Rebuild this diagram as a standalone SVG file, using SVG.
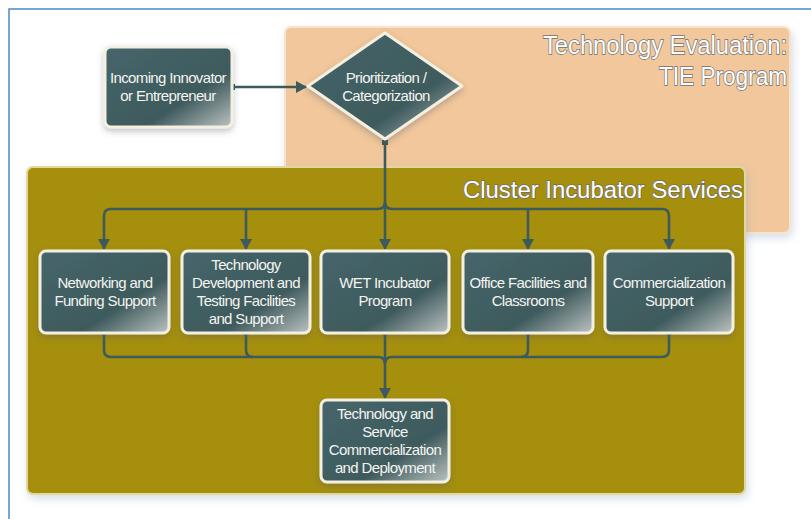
<svg xmlns="http://www.w3.org/2000/svg" width="811" height="519" viewBox="0 0 811 519">
<style>
.node{stroke:#F3F0E2;stroke-width:3}
.nt{font-family:"Liberation Sans","Arial",sans-serif;font-size:15px;fill:#F4F4F0;text-anchor:middle;letter-spacing:-0.65px}
.title{font-family:"Liberation Sans","Arial",sans-serif;fill:#FFFFFF;stroke:#6E6E6E;stroke-width:1.4;paint-order:stroke;text-anchor:end}
.conn{fill:none;stroke:#3D5A5C;stroke-width:2.6;stroke-linejoin:round}
</style>
<defs>
<linearGradient id="ng" x1="0" y1="0" x2="1" y2="1">
<stop offset="0" stop-color="#46666A"/>
<stop offset="0.65" stop-color="#3E5A5D"/>
<stop offset="1" stop-color="#BCC3C1"/>
</linearGradient>
<filter id="sh" x="-20%" y="-20%" width="140%" height="150%">
<feDropShadow dx="0" dy="3" stdDeviation="3" flood-color="#556" flood-opacity="0.35"/>
</filter>
<filter id="bsh" x="-5%" y="-5%" width="110%" height="115%">
<feDropShadow dx="2" dy="4" stdDeviation="4" flood-color="#8FA4C0" flood-opacity="0.35"/>
</filter>
<marker id="ah" markerUnits="userSpaceOnUse" markerWidth="14" markerHeight="14" refX="10" refY="6" orient="auto">
<path d="M0,0 L11,6 L0,12 Z" fill="#3D5A5C"/>
</marker>
</defs>
<rect width="811" height="519" fill="#FFFFFF"/>
<rect x="9" y="9" width="820" height="530" fill="none" stroke="#4F86C9" stroke-width="1.5"/>

<g id="tie-program">
<rect x="285" y="27" width="505" height="206" rx="6" fill="#F1C79B" stroke="#F7E3CC" stroke-width="2" filter="url(#bsh)"/>
<text class="title" x="787" y="54" font-size="25" textLength="244" lengthAdjust="spacingAndGlyphs">Technology Evaluation:</text>
<text class="title" x="787" y="85" font-size="25" textLength="128" lengthAdjust="spacingAndGlyphs">TIE Program</text>
</g>

<g id="cluster-incubator">
<rect x="27" y="167" width="718" height="327" rx="6" fill="#A58F08" stroke="#E3D7A0" stroke-width="2" filter="url(#bsh)"/>
<text class="title" x="743" y="198" font-size="24" textLength="280" lengthAdjust="spacingAndGlyphs" stroke-width="1">Cluster Incubator Services</text>
</g>

<g id="connectors">
<path class="conn" d="M232,87 H306" marker-end="url(#ah)"/>
<rect x="229" y="84" width="6" height="6" fill="#3D5A5C"/>
<path class="conn" d="M385,140 V249" marker-end="url(#ah)"/>
<rect x="382" y="140" width="6" height="5" fill="#3D5A5C"/>
<path class="conn" d="M385,202 Q385,209 378,209 H111 Q104,209 104,216 V249" marker-end="url(#ah)"/>
<path class="conn" d="M246,209 V249" marker-end="url(#ah)"/>
<path class="conn" d="M385,202 Q385,209 392,209 H662 Q669,209 669,216 V249" marker-end="url(#ah)"/>
<path class="conn" d="M528,209 V249" marker-end="url(#ah)"/>
<path class="conn" d="M104,333 V350 Q104,357 111,357 H378 Q385,357 385,364"/>
<path class="conn" d="M669,333 V350 Q669,357 662,357 H392 Q385,357 385,364"/>
<path class="conn" d="M246,333 V350 Q246,357 253,357"/>
<path class="conn" d="M528,333 V350 Q528,357 521,357"/>
<path class="conn" d="M385,333 V398" marker-end="url(#ah)"/>
<rect x="101" y="329" width="6" height="6" fill="#3D5A5C"/>
<rect x="243" y="329" width="6" height="6" fill="#3D5A5C"/>
<rect x="382" y="329" width="6" height="6" fill="#3D5A5C"/>
<rect x="525" y="329" width="6" height="6" fill="#3D5A5C"/>
<rect x="666" y="329" width="6" height="6" fill="#3D5A5C"/>
</g>

<g id="incoming">
<rect class="node" x="105" y="47" width="127" height="80" rx="6" fill="url(#ng)" filter="url(#sh)"/>
<text class="nt" x="168" y="83">Incoming Innovator</text>
<text class="nt" x="168" y="101">or Entrepreneur</text>
</g>

<g id="prioritization">
<path class="node" d="M385,33 L462,86 L385,139 L308,86 Z" stroke-linejoin="round" fill="url(#ng)" filter="url(#sh)"/>
<text class="nt" x="386" y="83">Prioritization /</text>
<text class="nt" x="386" y="101">Categorization</text>
</g>

<g id="networking">
<rect class="node" x="40" y="251" width="129" height="82" rx="6" fill="url(#ng)" filter="url(#sh)"/>
<text class="nt" x="105" y="288">Networking and</text>
<text class="nt" x="105" y="306">Funding Support</text>
</g>

<g id="techdev">
<rect class="node" x="182" y="251" width="128" height="82" rx="6" fill="url(#ng)" filter="url(#sh)"/>
<text class="nt" x="246" y="270">Technology</text>
<text class="nt" x="246" y="288">Development and</text>
<text class="nt" x="246" y="306">Testing Facilities</text>
<text class="nt" x="246" y="324">and Support</text>
</g>

<g id="wet">
<rect class="node" x="321" y="251" width="128" height="82" rx="6" fill="url(#ng)" filter="url(#sh)"/>
<text class="nt" x="385" y="288">WET Incubator</text>
<text class="nt" x="385" y="306">Program</text>
</g>

<g id="office">
<rect class="node" x="463" y="251" width="130" height="82" rx="6" fill="url(#ng)" filter="url(#sh)"/>
<text class="nt" x="528" y="288">Office Facilities and</text>
<text class="nt" x="528" y="306">Classrooms</text>
</g>

<g id="commercialization">
<rect class="node" x="605" y="251" width="128" height="82" rx="6" fill="url(#ng)" filter="url(#sh)"/>
<text class="nt" x="669" y="288">Commercialization</text>
<text class="nt" x="669" y="306">Support</text>
</g>

<g id="deployment">
<rect class="node" x="321" y="400" width="128" height="82" rx="6" fill="url(#ng)" filter="url(#sh)"/>
<text class="nt" x="385" y="419">Technology and</text>
<text class="nt" x="385" y="437">Service</text>
<text class="nt" x="385" y="455">Commercialization</text>
<text class="nt" x="385" y="473">and Deployment</text>
</g>
</svg>
